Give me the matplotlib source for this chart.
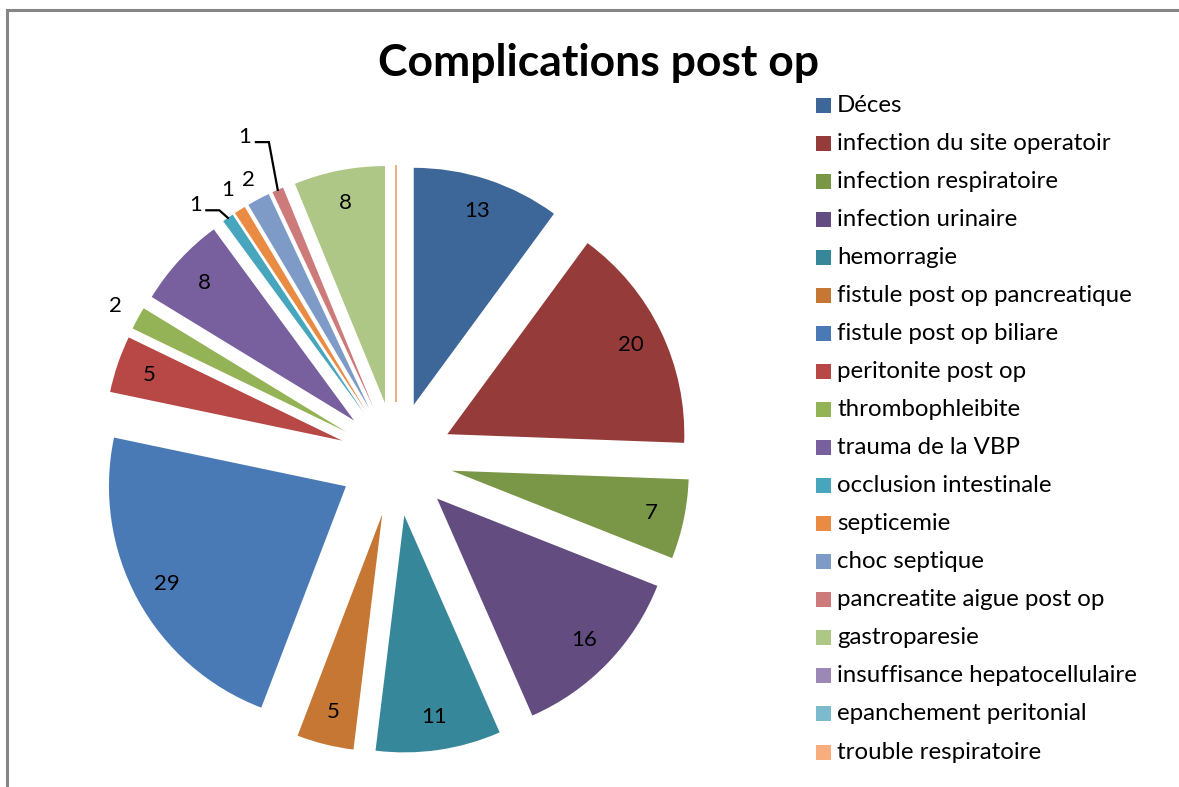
import numpy as np
import matplotlib
matplotlib.use("Agg")
import matplotlib.pyplot as plt
from matplotlib.patches import Rectangle

# ---- data -------------------------------------------------------------
categories = [
    "Déces",
    "infection du site operatoir",
    "infection respiratoire",
    "infection urinaire",
    "hemorragie",
    "fistule post op pancreatique",
    "fistule post op biliare",
    "peritonite post op",
    "thrombophleibite",
    "trauma de la VBP",
    "occlusion intestinale",
    "septicemie",
    "choc septique",
    "pancreatite aigue post op",
    "gastroparesie",
    "insuffisance hepatocellulaire",
    "epanchement peritonial",
    "trouble respiratoire",
]
counts = [13, 20, 7, 16, 11, 5, 29, 5, 2, 8, 1, 1, 2, 1, 8, 0, 0, 0]
title = "Complications post op"

colors = [
    "#3D6699", "#953B39", "#7A9647", "#634C80", "#37879A", "#C67734",
    "#4A7AB6", "#B84845", "#94B356", "#785F9E", "#48A5BE", "#EA8B43",
    "#7E9BC8", "#CC7B7A", "#AFC786", "#9C88B6", "#7CBACD", "#F8AE7C",
]

# ---- figure (axes in pixel units, y measured upward) -------------------
W, H = 1179, 787
fig = plt.figure(figsize=(W / 100, H / 100), dpi=100)
ax = fig.add_axes([0, 0, 1, 1])
FONT = "Lato"


def Y(y):
    return H - y


radius = 237
center = (396, Y(459))
wedges, _ = ax.pie(
    counts, colors=colors, startangle=90, counterclock=False,
    explode=[57] * len(counts), radius=radius, center=center,
    wedgeprops=dict(linewidth=0),
)
# empty categories show up as a thin radial stroke
for w, v in zip(wedges, counts):
    if v == 0:
        w.set_edgecolor(w.get_facecolor())
        w.set_linewidth(1.3)

ax.set_xlim(0, W)
ax.set_ylim(0, H)
ax.set_aspect("equal")
ax.set_axis_off()

# ---- value labels -----------------------------------------------------
# small slices get their label outside: (radial factor, angle shift, leader)
outside = {
    8: (1.11, 0.0, False),
    10: (1.125, 4.2, True),
    11: (1.10, 0.0, False),
    12: (1.09, 0.0, False),
    13: (1.26, 1.7, True),
}
for i, (w, v) in enumerate(zip(wedges, counts)):
    if v == 0:
        continue
    cx, cy = w.center
    mid = np.deg2rad((w.theta1 + w.theta2) / 2)
    if i in outside:
        f, shift, leader = outside[i]
        a = mid + np.deg2rad(shift)
        tx, ty = cx + f * w.r * np.cos(a), cy + f * w.r * np.sin(a)
        if leader:
            ex, ey = cx + w.r * np.cos(mid), cy + w.r * np.sin(mid)
            ax.plot([ex, tx + 24, tx + 11], [ey, ty - 5, ty - 5],
                    color="black", lw=1.6, solid_joinstyle="miter")
    else:
        f = 0.86
        tx, ty = cx + f * w.r * np.cos(mid), cy + f * w.r * np.sin(mid)
    ax.text(tx, ty, str(v), ha="center", va="center", fontsize=16,
            family=FONT, color="black")

# ---- legend -------------------------------------------------------------
row0, step = 105, 38.06
for i, (name, w) in enumerate(zip(categories, wedges)):
    yc = row0 + step * i
    ax.add_patch(Rectangle((816, Y(yc + 7.5)), 15, 15,
                           facecolor=w.get_facecolor(), edgecolor="none"))
    ax.text(837, Y(yc), name, ha="left", va="center", fontsize=17.3,
            family=FONT, color="black")

# ---- title and frame ---------------------------------------------------
ax.text(598, Y(63), title, ha="center", va="center", fontsize=32,
        fontweight="bold", family=FONT, color="black")
ax.add_patch(Rectangle((7, Y(900)), 1400, 890, fill=False,
                       edgecolor="#868686", lw=2.2))

fig.savefig("out.png", dpi=100)
